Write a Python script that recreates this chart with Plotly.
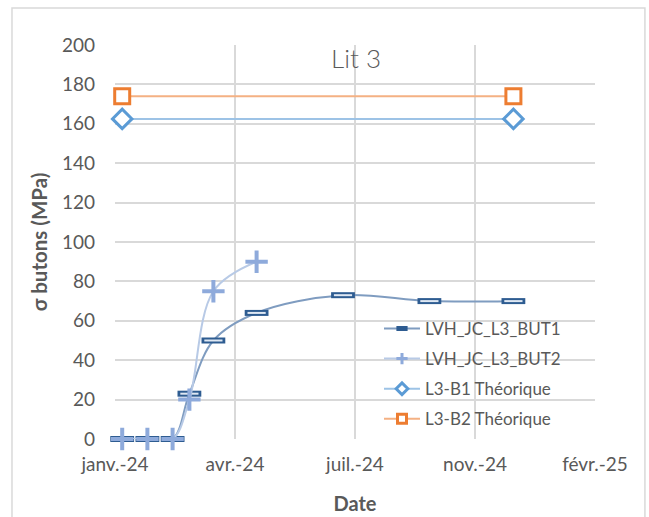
import plotly.graph_objects as go

# ---- data ----
dates_but1 = ["2024-01-15", "2024-02-05", "2024-02-26", "2024-03-11", "2024-03-31",
              "2024-05-06", "2024-07-17", "2024-09-27", "2024-12-06"]
but1 = [0, 0, 0, 23, 50, 64, 73, 70, 70]
dates_but2 = ["2024-01-15", "2024-02-05", "2024-02-26", "2024-03-11", "2024-03-31", "2024-05-06"]
but2 = [0, 0, 0, 20, 75, 90]
dates_theo = ["2024-01-15", "2024-12-06"]
b1_theo = [162.5, 162.5]
b2_theo = [174, 174]

x_tickvals = ["2024-01-09", "2024-04-18", "2024-07-27", "2024-11-04", "2025-02-12"]
x_ticktext = ["janv.-24", "avr.-24", "juil.-24", "nov.-24", "févr.-25"]
y_tickvals = list(range(0, 201, 20))

FONT = "Lato"
GREY = "#595959"

fig = go.Figure()

# BUT1 line + outlined dash markers
fig.add_trace(go.Scatter(
    x=dates_but1, y=but1, mode="lines+markers", showlegend=False,
    line=dict(color="#7f9cc0", width=2, shape="spline", smoothing=1),
    marker=dict(symbol="line-ew", size=17, color="#2e5c91",
                line=dict(color="#2e5c91", width=6)),
    cliponaxis=False,
))
fig.add_trace(go.Scatter(
    x=dates_but1, y=but1, mode="markers", showlegend=False,
    marker=dict(symbol="line-ew", size=13, color="#dfe8f3",
                line=dict(color="#dfe8f3", width=2)),
    hoverinfo="skip", cliponaxis=False,
))
# BUT2
fig.add_trace(go.Scatter(
    x=dates_but2, y=but2, mode="lines+markers", showlegend=False,
    line=dict(color="#b8cae6", width=2, shape="spline", smoothing=1),
    marker=dict(symbol="cross-thin", size=16, color="#8eaadb",
                line=dict(color="#8eaadb", width=4)),
    cliponaxis=False,
))
# Theoretical
fig.add_trace(go.Scatter(
    x=dates_theo, y=b1_theo, mode="lines+markers", showlegend=False,
    line=dict(color="#9dc3e6", width=2),
    marker=dict(symbol="diamond", size=15, color="white",
                line=dict(color="#5b9bd5", width=3)),
    cliponaxis=False,
))
fig.add_trace(go.Scatter(
    x=dates_theo, y=b2_theo, mode="lines+markers", showlegend=False,
    line=dict(color="#f4b183", width=2),
    marker=dict(symbol="square", size=15, color="white",
                line=dict(color="#ed7d31", width=3)),
    cliponaxis=False,
))

# legend entries (smaller symbols, as in the Excel legend)
legend_specs = [
    ("LVH_JC_L3_BUT1", "#7f9cc0", dict(symbol="line-ew", size=8, color="#2e5c91",
                                       line=dict(color="#2e5c91", width=5))),
    ("LVH_JC_L3_BUT2", "#b8cae6", dict(symbol="cross-thin", size=8, color="#8eaadb",
                                       line=dict(color="#8eaadb", width=3))),
    ("L3-B1 Théorique", "#9dc3e6", dict(symbol="diamond", size=9, color="white",
                                        line=dict(color="#5b9bd5", width=3))),
    ("L3-B2 Théorique", "#f4b183", dict(symbol="square", size=9, color="white",
                                        line=dict(color="#ed7d31", width=3))),
]
for i, (nm, lc, mk) in enumerate(legend_specs):
    fig.add_trace(go.Scatter(
        x=[None], y=[None], mode="lines+markers", name=nm,
        line=dict(color=lc, width=2), marker=mk, legendgroup=f"g{i}",
    ))

fig.update_layout(
    width=649, height=517,
    margin=dict(l=115, r=54, t=45, b=78, autoexpand=False),
    paper_bgcolor="white", plot_bgcolor="white",
    font=dict(family=FONT, color=GREY, size=19),
    showlegend=True,
    legend=dict(x=0.55, y=0.325, xanchor="left", yanchor="top",
                bgcolor="rgba(255,255,255,0)", font=dict(size=17, color=GREY),
                traceorder="grouped", tracegroupgap=5, itemwidth=36),
    xaxis=dict(
        type="date", range=["2024-01-09", "2025-02-12"],
        tickvals=x_tickvals, ticktext=x_ticktext, automargin=False,
        showgrid=True, gridcolor="#d9d9d9", gridwidth=1.5,
        zeroline=False, showline=False, ticks="", ticklabelstandoff=12,
        title=dict(text="<b>Date</b>", font=dict(size=20, color=GREY), standoff=22),
    ),
    yaxis=dict(
        range=[0, 200], tickvals=y_tickvals, automargin=False,
        showgrid=True, gridcolor="#d9d9d9", gridwidth=1.5,
        zeroline=False, showline=False, ticks="", ticklabelstandoff=19,
        title=dict(text="<b>σ butons (MPa)</b>", font=dict(size=20.5, color=GREY), standoff=8),
    ),
    annotations=[dict(
        text="Lit 3", x=0.502, y=0.967, xref="paper", yref="paper",
        xanchor="center", yanchor="middle", showarrow=False,
        font=dict(size=26, color=GREY, family=FONT, weight=300),
    )],
    shapes=[dict(
        type="rect", xref="paper", yref="paper",
        x0=-0.2146, x1=1.104, y0=-0.25, y1=1.094,
        line=dict(color="#d9d9d9", width=1.5), layer="below",
    )],
)

fig.write_html("out.html")
